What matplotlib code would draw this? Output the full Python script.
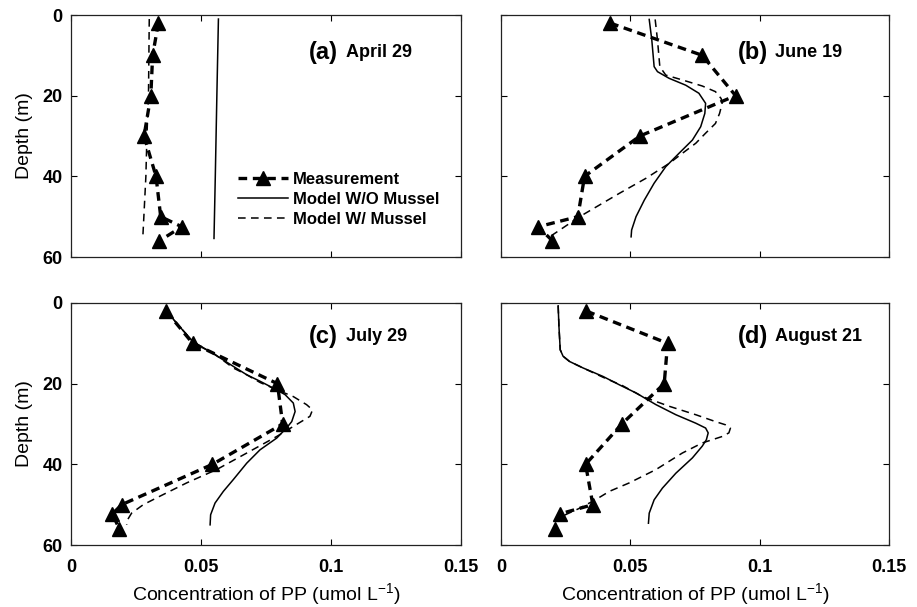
import matplotlib
matplotlib.use("Agg")
import matplotlib.pyplot as plt

plt.rcParams['font.family'] = ['Liberation Sans', 'DejaVu Sans']

# ---------------- data ----------------
panel_labels = ["(a)", "(b)", "(c)", "(d)"]
panel_dates = ["April 29", "June 19", "July 29", "August 21"]

# Measurements
meas_depth_a = [2, 10, 20, 30, 40, 50, 52.5, 56]
meas_pp_a = [0.0336, 0.0314, 0.0307, 0.0281, 0.0327, 0.0345, 0.0426, 0.0340]
meas_depth_b = [2, 10, 20, 30, 40, 50, 52.5, 56]
meas_pp_b = [0.0422, 0.0778, 0.0907, 0.0537, 0.0323, 0.0297, 0.0144, 0.0199]
meas_depth_c = [2, 10, 20, 30, 40, 50, 52.3, 56]
meas_pp_c = [0.0366, 0.0468, 0.0794, 0.0814, 0.0544, 0.0195, 0.0159, 0.0186]
meas_depth_d = [2, 10, 20, 30, 40, 50, 52.3, 56]
meas_pp_d = [0.0330, 0.0644, 0.0631, 0.0467, 0.0327, 0.0355, 0.0227, 0.0208]

# Model without mussel (solid)
wo_depth_a = [1, 20, 40, 55.4]
wo_pp_a = [0.0567, 0.0561, 0.0555, 0.0550]
wo_depth_b = [1.1, 6.2, 12.8, 14.05, 15.7, 17.4, 19.4, 21.9, 24.4, 27.7, 31.0,
              34.3, 37.6, 41.7, 45.9, 50.0, 53.3, 55.0]
wo_pp_b = [0.0573, 0.0583, 0.0592, 0.0605, 0.0650, 0.0714, 0.0765, 0.0791, 0.0788,
           0.0772, 0.0740, 0.0688, 0.0637, 0.0592, 0.0554, 0.0522, 0.0505, 0.0503]
wo_depth_c = [1.7, 5.0, 9.5, 11.6, 13.6, 15.7, 17.8, 19.4, 21.1, 22.7, 24.8, 26.9,
              29.4, 31.0, 33.5, 36.4, 39.7, 43.8, 46.7, 49.6, 52.5, 55.0]
wo_pp_c = [0.0365, 0.0406, 0.0468, 0.0522, 0.0573, 0.0624, 0.0676, 0.0727, 0.0778,
           0.0823, 0.0855, 0.0862, 0.0849, 0.0829, 0.0791, 0.0727, 0.0676, 0.0624,
           0.0586, 0.0554, 0.0537, 0.0535]
wo_depth_d = [0.7, 5.8, 11.6, 13.2, 14.5, 16.1, 18.2, 20.3, 22.3, 25.2, 27.7, 29.8,
              31.0, 32.2, 33.9, 35.5, 38.4, 42.2, 45.9, 48.8, 52.1, 54.6]
wo_pp_d = [0.0221, 0.0224, 0.0229, 0.0240, 0.0265, 0.0317, 0.0394, 0.0458, 0.0522,
           0.0599, 0.0676, 0.0753, 0.0791, 0.0801, 0.0794, 0.0778, 0.0740, 0.0676,
           0.0624, 0.0592, 0.0573, 0.0570]

# Model with mussel (thin dashed)
w_depth_a = [1, 20, 30, 40, 55.4]
w_pp_a = [0.0301, 0.0298, 0.0292, 0.0288, 0.0276]
w_depth_b = [1.1, 6.2, 12.8, 14.9, 16.1, 17.6, 19.0, 20.7, 21.9, 24.4, 26.9, 29.3,
             31.8, 34.3, 36.8, 40.5, 44.2, 47.1, 50.0, 52.5, 55.0]
w_pp_b = [0.0596, 0.0605, 0.0614, 0.0637, 0.0701, 0.0778, 0.0829, 0.0851, 0.0855,
          0.0845, 0.0829, 0.0791, 0.0753, 0.0701, 0.0650, 0.0560, 0.0458, 0.0381,
          0.0304, 0.0246, 0.0188]
w_depth_c = [1.7, 5.0, 9.5, 11.2, 12.4, 16.1, 17.8, 19.7, 21.5, 23.2, 25.2, 26.5,
             28.1, 30.6, 33.1, 37.2, 41.3, 44.6, 47.9, 50.0, 52.1, 53.7, 55.0]
w_pp_c = [0.0365, 0.0406, 0.0468, 0.0509, 0.0547, 0.0624, 0.0676, 0.0727, 0.0791,
          0.0855, 0.0906, 0.0929, 0.0919, 0.0855, 0.0791, 0.0676, 0.0560, 0.0445,
          0.0342, 0.0278, 0.0233, 0.0218, 0.0214]
w_depth_d = [0.7, 5.8, 11.6, 13.2, 14.5, 16.1, 18.4, 20.5, 23.2, 25.6, 27.7, 29.4,
             30.2, 31.0, 32.2, 33.1, 34.7, 37.2, 41.3, 44.6, 46.7, 48.8, 51.0, 53.0]
w_pp_d = [0.0221, 0.0224, 0.0229, 0.0240, 0.0265, 0.0317, 0.0394, 0.0470, 0.0547,
          0.0650, 0.0753, 0.0829, 0.0868, 0.0887, 0.0881, 0.0855, 0.0778, 0.0701,
          0.0599, 0.0496, 0.0419, 0.0365, 0.0300, 0.0232]

x_ticks = [0, 0.05, 0.1, 0.15]
x_tick_labels = ["0", "0.05", "0.1", "0.15"]
y_ticks = [0, 20, 40, 60]
y_tick_labels = ["0", "20", "40", "60"]

# ---------------- figure ----------------
fig = plt.figure(figsize=(9.17, 6.07), dpi=100)
W, H = 917, 607

def ax_rect(l, t, r, b):
    return [l / W, 1 - b / H, (r - l) / W, (b - t) / H]

rects = [ax_rect(71, 15, 461, 257), ax_rect(501, 15, 889, 257),
         ax_rect(71, 303, 461, 545), ax_rect(501, 303, 889, 545)]

meas = [(meas_depth_a, meas_pp_a), (meas_depth_b, meas_pp_b),
        (meas_depth_c, meas_pp_c), (meas_depth_d, meas_pp_d)]
wo = [(wo_depth_a, wo_pp_a), (wo_depth_b, wo_pp_b),
      (wo_depth_c, wo_pp_c), (wo_depth_d, wo_pp_d)]
wm = [(w_depth_a, w_pp_a), (w_depth_b, w_pp_b),
      (w_depth_c, w_pp_c), (w_depth_d, w_pp_d)]
label_y = [9.2, 9.2, 8.4, 8.4]

for i in range(4):
    ax = fig.add_axes(rects[i])
    d, v = wo[i]
    l_wo, = ax.plot(v, d, color='black', lw=1.1, label='Model W/O Mussel',
                    solid_joinstyle='round')
    d, v = wm[i]
    l_w, = ax.plot(v, d, color='black', lw=1.1, dashes=(5, 3.5), label='Model W/ Mussel')
    d, v = meas[i]
    l_m, = ax.plot(v, d, color='black', lw=2.4, dashes=(2.6, 1.7), marker='^',
                   markersize=10, markerfacecolor='black', markeredgecolor='black',
                   label='Measurement')
    ax.set_xlim(0, 0.15)
    ax.set_ylim(60, 0)
    ax.set_xticks(x_ticks)
    ax.set_yticks(y_ticks)
    ax.tick_params(direction='in', top=True, right=True, length=4, width=0.8,
                   labelsize=13)
    ax.tick_params(axis='x', pad=10)
    ax.tick_params(axis='y', pad=6)
    if i >= 2:
        ax.set_xticklabels(x_tick_labels, fontweight='bold')
        ax.set_xlabel('Concentration of PP (umol L$^{\\mathregular{-1}}$)',
                      fontsize=14, labelpad=4)
    else:
        ax.set_xticklabels([])
    if i % 2 == 0:
        ax.set_yticklabels(y_tick_labels, fontweight='bold')
        ax.set_ylabel('Depth (m)', fontsize=14, labelpad=7)
    else:
        ax.set_yticklabels([])
    for s in ax.spines.values():
        s.set_linewidth(0.9)
        s.set_color('#222222')
    ax.text(0.0915, label_y[i], panel_labels[i], fontsize=17, fontweight='bold',
            va='center', ha='left')
    ax.text(0.1058, label_y[i], panel_dates[i], fontsize=13, fontweight='bold',
            va='center', ha='left')
    if i == 0:
        ax.legend(handles=[l_m, l_wo, l_w], loc='upper left',
                  bbox_to_anchor=(0.428, 0.35), frameon=False,
                  prop={'size': 12, 'weight': 'bold'}, handlelength=3.0,
                  handletextpad=0.3, labelspacing=0.3, borderpad=0,
                  borderaxespad=0)

fig.savefig('out.png', dpi=100)
